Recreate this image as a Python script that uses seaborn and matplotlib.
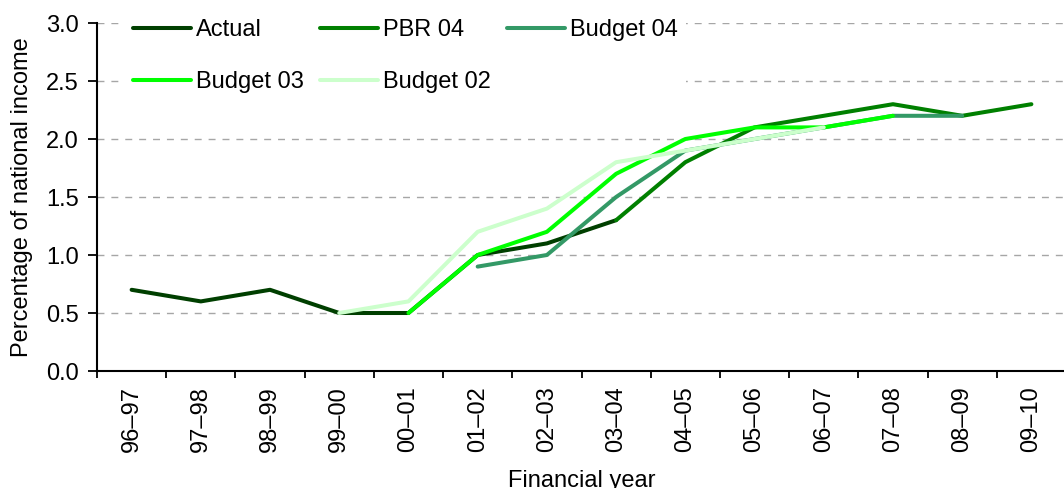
import numpy as np
import pandas as pd
import seaborn as sns
import matplotlib.pyplot as plt

# Financial years on the x axis
years = ["96–97", "97–98", "98–99", "99–00", "00–01", "01–02", "02–03",
         "03–04", "04–05", "05–06", "06–07", "07–08", "08–09", "09–10"]

# Percentage of national income, one list per forecast (None = no value)
actual = [0.7, 0.6, 0.7, 0.5, 0.5, 1.0, 1.1, 1.3, None, None, None, None, None, None]
pbr_04 = [None, None, None, None, None, None, None, 1.3, 1.8, 2.1, 2.2, 2.3, 2.2, 2.3]
budget_04 = [None, None, None, None, None, 0.9, 1.0, 1.5, 1.9, 2.0, 2.1, 2.2, 2.2, None]
budget_03 = [None, None, None, None, 0.5, 1.0, 1.2, 1.7, 2.0, 2.1, 2.1, 2.2, None, None]
budget_02 = [None, None, None, 0.5, 0.6, 1.2, 1.4, 1.8, 1.9, 2.0, 2.1, None, None, None]

series = {
    "Actual": actual,
    "PBR 04": pbr_04,
    "Budget 04": budget_04,
    "Budget 03": budget_03,
    "Budget 02": budget_02,
}
colors = ["#003f00", "#008000", "#339966", "#00ff00", "#ccffcc"]

rows = []
for name, vals in series.items():
    for i, (yr, v) in enumerate(zip(years, vals)):
        if v is not None:
            rows.append(dict(series=name, pos=i, year=yr, value=v))
df = pd.DataFrame(rows)

FS = 17

sns.set_style("ticks")
plt.rcParams["font.family"] = ["Liberation Sans", "DejaVu Sans"]
plt.rcParams["font.size"] = FS
plt.rcParams["text.color"] = "black"
plt.rcParams["axes.labelcolor"] = "black"
plt.rcParams["xtick.color"] = "black"
plt.rcParams["ytick.color"] = "black"

fig = plt.figure(figsize=(10.64, 4.88), dpi=100)
ax = fig.add_axes([97 / 1064, 117 / 488, 969 / 1064, 348 / 488])

sns.lineplot(data=df, x="pos", y="value", hue="series", hue_order=list(series),
             palette=colors, linewidth=2.9, ax=ax, legend=False,
             solid_capstyle="round", estimator=None)

ax.set_ylim(0, 3.0)
ax.set_xlim(-0.5, len(years) - 0.5)
yt = np.arange(0, 3.01, 0.5)
ax.set_yticks(yt)
ax.set_yticklabels([f"{v:.1f}" for v in yt], fontsize=FS)
ax.set_xticks(range(len(years)))
ax.set_xticklabels(years, rotation=90, fontsize=FS)
ax.set_xticks(np.arange(-0.5, len(years)), minor=True)
ax.tick_params(axis="x", which="major", length=0, pad=11)
ax.tick_params(axis="x", which="minor", length=5, width=1.3, color="black")
ax.tick_params(axis="y", length=6.5, width=1.3, color="black", pad=6.5)

for v in yt[1:]:
    ax.axhline(v, color="#a6a6a6", linestyle=(0, (5, 5)), linewidth=1, zorder=0)

sns.despine(ax=ax)
for side in ["left", "bottom"]:
    ax.spines[side].set_linewidth(1.5)
    ax.spines[side].set_color("black")

ax.set_xlabel("Financial year", fontsize=FS)
ax.set_ylabel("Percentage of national income", fontsize=FS)
ax.xaxis.set_label_coords(0.5, -0.285)
ax.yaxis.set_label_coords(-0.066, 0.5)

# legend filled row by row: Actual, PBR 04, Budget 04 / Budget 03, Budget 02
names = list(series)
order = [0, 3, 1, 4, 2]
handles = [plt.Line2D([], [], color=colors[i], linewidth=2.9, solid_capstyle="round")
           for i in order]
leg = fig.legend(handles, [names[i] for i in order], ncol=3, loc="upper left",
                 bbox_to_anchor=(125 / 1064, 1 - 11 / 488), frameon=True,
                 fancybox=False, borderpad=0.35, borderaxespad=0,
                 handlelength=2.45, handletextpad=0.2,
                 columnspacing=0.7, labelspacing=1.28, fontsize=FS)
leg.get_frame().set_facecolor("white")
leg.get_frame().set_edgecolor("none")
leg.get_frame().set_alpha(1)

fig.savefig("out.png", dpi=100)
